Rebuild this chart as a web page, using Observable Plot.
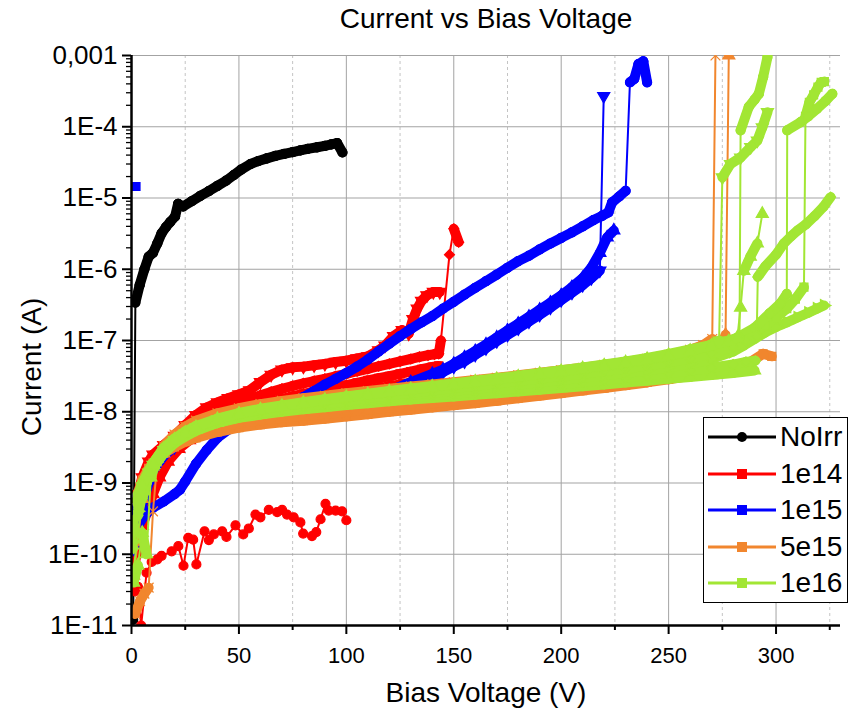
<!DOCTYPE html>
<html><head><meta charset="utf-8">
<script src="https://cdn.jsdelivr.net/npm/d3@7"></script>
<script src="https://cdn.jsdelivr.net/npm/@observablehq/plot@0.6"></script>
<style>
body{margin:0;background:#fff;font-family:"Liberation Sans",Arial,sans-serif;}
#wrap{position:relative;width:851px;height:713px;overflow:hidden;}
.t{position:absolute;color:#000;white-space:nowrap;}
</style></head><body><div id="wrap"></div>
<script>
// ---------- series & axes ----------
const seriesNames = ["NoIrr","1e14","1e15","5e15","1e16"];
const seriesColors = ["#000000","#ff0000","#0000ff","#f1862e","#a2e634"];
const xTicks = [0,50,100,150,200,250,300];
const xMinorTicks = [25,75,125,175,225,275,325];
const yTicks = [1e-3,1e-4,1e-5,1e-6,1e-7,1e-8,1e-9,1e-10,1e-11];
const yTickLabels = ["0,001","1E-4","1E-5","1E-6","1E-7","1E-8","1E-9","1E-10","1E-11"];

// ---------- data: [bias voltage (V), current (A)] ----------
const noIrr = [[0.8,1.2e-11],[1.8,3.4e-7],[3.8,6e-7],[6,1e-6],[8,1.5e-6],[10,1.7e-6],[12,2.3e-6],[14,3.2e-6],[16,3.9e-6],[18,4.6e-6],[20.3,5.5e-6],[21.7,8.3e-6],[24,7.6e-6],[28,9e-6],[32,1.07e-5],[36,1.25e-5],[40,1.48e-5],[44,1.75e-5],[47.6,2.1e-5],[51,2.5e-5],[55.4,3e-5],[59,3.3e-5],[63,3.6e-5],[67,3.9e-5],[71,4.15e-5],[75,4.4e-5],[78.6,4.65e-5],[82,4.9e-5],[86.4,5.15e-5],[90,5.4e-5],[93,5.65e-5],[95.7,5.9e-5],[98.2,4.35e-5]];

const r14a = [[1,2.5e-10],[3,7e-10],[5,1.2e-9],[8,2e-9],[10,2.5e-9],[15,3.4e-9],[20,4.6e-9],[25,6.5e-9],[30,9e-9],[35,1.15e-8],[40,1.35e-8],[45,1.55e-8],[50,1.75e-8],[55,2e-8],[60,2.6e-8],[65,3.3e-8],[70,3.9e-8],[75,4.2e-8],[80,4.3e-8],[85,4.5e-8],[90,4.7e-8],[95,5e-8],[100,5.2e-8],[105,5.6e-8],[110,6e-8],[115,7.3e-8],[118,8.5e-8],[122,1.15e-7],[126,1.4e-7],[129,1.25e-7],[131,2e-7],[133,2.8e-7],[135,3.6e-7],[137.5,4.3e-7],[140.5,4.8e-7],[143.5,4.8e-7]];
const r14b = [[1,2e-10],[3,6e-10],[5,1e-9],[8,1.7e-9],[10,2.2e-9],[15,3.2e-9],[20,4.2e-9],[25,5.6e-9],[30,7.2e-9],[35,8.8e-9],[40,1.05e-8],[45,1.2e-8],[50,1.35e-8],[55,1.5e-8],[60,1.7e-8],[65,1.9e-8],[70,2.1e-8],[75,2.3e-8],[80,2.5e-8],[85,2.7e-8],[90,2.9e-8],[95,3.15e-8],[100,3.4e-8],[105,3.7e-8],[110,4e-8],[115,4.35e-8],[120,4.7e-8],[125,5.1e-8],[130,5.5e-8],[134,5.9e-8],[138,6.2e-8],[141,6.4e-8],[143,6.5e-8],[144,1e-7],[148,1.6e-6],[150,3.7e-6],[152.3,2.4e-6]];
const r14c = [[1,1.5e-10],[3,4.5e-10],[5,8e-10],[8,1.4e-9],[10,1.9e-9],[15,2.9e-9],[20,3.8e-9],[25,4.9e-9],[30,6e-9],[35,7.1e-9],[40,8.2e-9],[45,9.3e-9],[50,1.04e-8],[55,1.15e-8],[60,1.27e-8],[65,1.4e-8],[70,1.52e-8],[75,1.65e-8],[80,1.78e-8],[85,1.92e-8],[90,2.06e-8],[95,2.2e-8],[100,2.36e-8],[105,2.55e-8],[110,2.75e-8],[115,2.95e-8],[120,3.15e-8],[125,3.4e-8],[130,3.65e-8],[135,3.95e-8],[140,4.25e-8],[143,4.4e-8]];
const r14d = [[1,6e-11],[3,1.3e-10],[5,2.5e-10],[8,4.5e-10],[10,7e-10],[13,1.2e-9],[17,2e-9],[22,3e-9],[27,4e-9],[32,5e-9],[40,6.5e-9],[45,7.5e-9],[50,8.5e-9],[55,9.5e-9],[60,1.04e-8],[65,1.13e-8],[70,1.22e-8],[75,1.31e-8],[80,1.4e-8],[85,1.5e-8],[90,1.6e-8],[95,1.7e-8],[100,1.8e-8],[105,1.91e-8],[110,2.03e-8],[115,2.15e-8],[120,2.28e-8],[125,2.42e-8],[130,2.56e-8],[135,2.72e-8],[140,2.9e-8],[143,3e-8]];
const r14e = [[1.5,3e-11],[3,3.5e-11],[4.5,1e-11],[7,5.5e-11],[9.4,7.8e-11],[12,8.5e-11],[14,9.5e-11],[18.7,1.1e-10],[21.8,1.3e-10],[24.2,6.9e-11],[26.4,1.7e-10],[28.7,1.6e-10],[30.2,7.2e-11],[34,2.1e-10],[36,1.58e-10],[38.3,1.9e-10],[42.2,2.1e-10],[44.2,1.75e-10],[48.4,2.55e-10],[52,1.9e-10],[54.6,2.3e-10],[57.7,3.6e-10],[60,3.3e-10],[63.9,4.2e-10],[67.8,3.9e-10],[70.1,4.2e-10],[72.4,3.6e-10],[75.5,3.3e-10],[78.6,2.8e-10],[79.9,1.95e-10],[84,1.8e-10],[86,2.05e-10],[88,3.1e-10],[90.3,5.1e-10],[91.8,4.1e-10],[95,4.1e-10],[98,4e-10],[100,3e-10]];

const b15a = [[2.1,1.45e-5]];
const b15b = [[1,1.5e-10],[3,2.5e-10],[6,3.5e-10],[10,4.5e-10],[15,5.5e-10],[20,7e-10],[22.6,8.1e-10],[25,1.05e-9],[30,1.85e-9],[35,2.9e-9],[40,4.3e-9],[45,5.6e-9],[50,6.9e-9],[55,8.1e-9],[60,9.3e-9],[65,1.06e-8],[70,1.2e-8],[75,1.38e-8],[80,1.6e-8],[85,1.95e-8],[90,2.4e-8],[95,2.9e-8],[100,3.5e-8],[105,4.3e-8],[110,5.4e-8],[115,7e-8],[120,9e-8],[125,1.15e-7],[130,1.45e-7],[135,1.8e-7],[140,2.2e-7],[145,2.8e-7],[150,3.5e-7],[155,4.4e-7],[160,5.5e-7],[165,6.8e-7],[170,8.4e-7],[175,1.05e-6],[180,1.3e-6],[185,1.55e-6],[190,1.9e-6],[195,2.3e-6],[200,2.75e-6],[205,3.3e-6],[210,4e-6],[215,4.9e-6],[219,5.6e-6],[222,6.3e-6],[223.7,8.7e-6],[227,1.05e-5],[230,1.26e-5],[232,4.2e-4],[234,4.7e-4],[236,7.6e-4],[238.2,8.3e-4],[240,4.2e-4]];
const b15c = [[1,1.2e-10],[3,2.8e-10],[5,5e-10],[8,1e-9],[10,1.5e-9],[15,2.4e-9],[20,3.2e-9],[30,5e-9],[40,6.5e-9],[50,7.8e-9],[60,9e-9],[70,1.02e-8],[80,1.13e-8],[90,1.25e-8],[100,1.37e-8],[110,1.55e-8],[120,1.85e-8],[125,2.15e-8],[130,2.5e-8],[135,2.8e-8],[140,3.1e-8],[145,3.6e-8],[150,4.3e-8],[155,5.1e-8],[160,6.3e-8],[165,7.8e-8],[170,9.8e-8],[175,1.2e-7],[180,1.48e-7],[185,1.85e-7],[190,2.3e-7],[195,2.9e-7],[200,3.7e-7],[205,4.7e-7],[210,6e-7],[214,7.5e-7],[218,9.6e-7],[219.8,2.7e-4]];
const b15d = [[1,3e-10],[3,5e-10],[5,7e-10],[8,1.1e-9],[10,1.7e-9],[15,2.6e-9],[20,3.5e-9],[30,5.3e-9],[40,6.9e-9],[50,8.2e-9],[60,9.4e-9],[70,1.06e-8],[80,1.18e-8],[90,1.3e-8],[100,1.43e-8],[110,1.6e-8],[120,1.95e-8],[130,2.6e-8],[140,3.4e-8],[145,3.9e-8],[150,4.7e-8],[155,5.8e-8],[160,7.1e-8],[165,8.8e-8],[170,1.1e-7],[175,1.38e-7],[180,1.72e-7],[185,2.15e-7],[190,2.7e-7],[195,3.4e-7],[200,4.3e-7],[205,5.6e-7],[210,7.5e-7],[214,1.05e-6],[218,1.7e-6],[221.4,2.8e-6],[224.5,3.5e-6]];

const o5a = [[1,3e-10],[3,7e-10],[5,1.1e-9],[8,1.6e-9],[10,1.9e-9],[15,2.6e-9],[20,3.2e-9],[25,3.8e-9],[30,4.3e-9],[40,5.2e-9],[50,6e-9],[60,6.6e-9],[70,7.1e-9],[80,7.5e-9],[90,8e-9],[100,8.6e-9],[110,9.2e-9],[120,1e-8],[130,1.07e-8],[140,1.15e-8],[150,1.23e-8],[160,1.32e-8],[170,1.42e-8],[180,1.55e-8],[190,1.68e-8],[200,1.82e-8],[210,1.98e-8],[220,2.15e-8],[230,2.35e-8],[240,2.58e-8],[250,2.85e-8],[260,3.2e-8],[270,3.6e-8],[280,4.2e-8],[288,5e-8],[294,6.5e-8],[298,6e-8]];
const o5b = [[1.7,1.45e-11],[4,2.2e-11],[6,2.8e-11],[8,3.4e-11],[10,4e-10],[12,2e-9],[15,3.3e-9],[20,4.8e-9],[25,6.2e-9],[30,7.5e-9],[40,9.5e-9],[50,1.12e-8],[60,1.28e-8],[70,1.42e-8],[80,1.55e-8],[90,1.68e-8],[100,1.82e-8],[110,1.96e-8],[120,2.1e-8],[130,2.26e-8],[140,2.42e-8],[150,2.6e-8],[160,2.8e-8],[170,3e-8],[180,3.25e-8],[190,3.52e-8],[200,3.82e-8],[210,4.15e-8],[220,4.55e-8],[230,5e-8],[240,5.55e-8],[250,6.3e-8],[260,7.4e-8],[266,8.6e-8],[270.3,1.05e-7],[271.8,1e-3]];
const o5c = [[1,5e-11],[3,1.5e-10],[5,6e-10],[8,1.3e-9],[10,1.7e-9],[15,2.6e-9],[20,3.4e-9],[30,4.8e-9],[40,5.9e-9],[50,6.9e-9],[60,7.6e-9],[70,8.2e-9],[80,8.7e-9],[90,9.3e-9],[100,1e-8],[110,1.07e-8],[120,1.15e-8],[130,1.23e-8],[140,1.32e-8],[150,1.41e-8],[160,1.52e-8],[170,1.64e-8],[180,1.77e-8],[190,1.9e-8],[200,2.05e-8],[210,2.22e-8],[220,2.42e-8],[230,2.66e-8],[240,2.95e-8],[250,3.3e-8],[260,3.9e-8],[268,4.8e-8],[273,6.5e-8],[276.5,1.2e-7],[278,1e-3]];

const g16a = [[1,4e-11],[3,7e-11],[5,2e-10],[7,1e-10],[9,1.2e-9],[12,2.2e-9],[15,2.9e-9],[20,3.9e-9],[25,4.8e-9],[30,5.6e-9],[40,7e-9],[50,8.2e-9],[60,9.1e-9],[70,1e-8],[80,1.08e-8],[90,1.16e-8],[100,1.24e-8],[110,1.32e-8],[120,1.4e-8],[130,1.48e-8],[140,1.56e-8],[150,1.64e-8],[160,1.73e-8],[170,1.82e-8],[180,1.92e-8],[190,2.03e-8],[200,2.15e-8],[210,2.28e-8],[220,2.42e-8],[230,2.57e-8],[240,2.73e-8],[250,2.9e-8],[260,3.08e-8],[270,3.27e-8],[280,3.5e-8],[290,3.8e-8]];
const g16b = [[1,6e-11],[3,2e-10],[5,6e-10],[8,1.3e-9],[10,1.9e-9],[15,3.1e-9],[20,4.1e-9],[25,5e-9],[30,5.9e-9],[40,7.4e-9],[50,8.6e-9],[60,9.6e-9],[70,1.05e-8],[80,1.14e-8],[90,1.23e-8],[100,1.32e-8],[110,1.41e-8],[120,1.5e-8],[130,1.59e-8],[140,1.69e-8],[150,1.79e-8],[160,1.9e-8],[170,2.01e-8],[180,2.14e-8],[190,2.28e-8],[200,2.43e-8],[210,2.6e-8],[220,2.79e-8],[230,3e-8],[240,3.23e-8],[250,3.5e-8],[260,3.8e-8],[270,4.15e-8],[280,4.6e-8],[286,5e-8],[290.4,5.2e-8]];
const g16c = [[1,1.5e-10],[3,4e-10],[5,7e-10],[8,1.2e-9],[10,1.6e-9],[15,2.7e-9],[20,3.7e-9],[25,4.6e-9],[30,5.5e-9],[40,7.1e-9],[50,8.4e-9],[60,9.6e-9],[70,1.07e-8],[80,1.17e-8],[90,1.27e-8],[100,1.38e-8],[110,1.49e-8],[120,1.6e-8],[130,1.72e-8],[140,1.84e-8],[150,1.97e-8],[160,2.1e-8],[170,2.25e-8],[180,2.41e-8],[190,2.59e-8],[200,2.78e-8],[210,3e-8],[220,3.24e-8],[230,3.5e-8],[240,3.8e-8],[250,4.2e-8],[260,4.7e-8],[270,5.5e-8],[280,7e-8],[285,8.5e-8],[290,1.05e-7],[295,1.3e-7],[300,1.55e-7],[305,1.8e-7],[310,2.1e-7],[315,2.45e-7],[319,2.8e-7],[322.3,3.1e-7]];
const g16d = [[1,2e-10],[3,5e-10],[5,8e-10],[8,1.3e-9],[10,1.7e-9],[15,2.8e-9],[20,3.8e-9],[25,4.8e-9],[30,5.7e-9],[40,7.4e-9],[50,8.8e-9],[60,1e-8],[70,1.12e-8],[80,1.23e-8],[90,1.35e-8],[100,1.47e-8],[110,1.6e-8],[120,1.73e-8],[130,1.87e-8],[140,2.02e-8],[150,2.18e-8],[160,2.35e-8],[170,2.54e-8],[180,2.75e-8],[190,2.98e-8],[200,3.23e-8],[210,3.5e-8],[220,3.8e-8],[230,4.15e-8],[240,4.55e-8],[250,5.1e-8],[260,5.8e-8],[270,6.9e-8],[280,8.8e-8],[285,1.05e-7],[290,1.3e-7],[295,1.65e-7],[300,2.1e-7],[305,2.8e-7],[309,3.8e-7],[313,5.6e-7],[313.7,1.4e-4],[315.5,2.2e-4],[317.5,2.8e-4],[319.5,3.6e-4],[321,4.2e-4],[322.5,4.3e-4]];
const g16e = [[1,2.5e-10],[3,6e-10],[5,9e-10],[8,1.4e-9],[10,1.8e-9],[15,3e-9],[20,4e-9],[25,5e-9],[30,6e-9],[40,7.7e-9],[50,9.2e-9],[60,1.05e-8],[70,1.17e-8],[80,1.29e-8],[90,1.41e-8],[100,1.54e-8],[110,1.68e-8],[120,1.82e-8],[130,1.97e-8],[140,2.13e-8],[150,2.3e-8],[160,2.49e-8],[170,2.7e-8],[180,2.93e-8],[190,3.18e-8],[200,3.45e-8],[210,3.75e-8],[220,4.1e-8],[230,4.5e-8],[240,5e-8],[250,5.7e-8],[260,6.6e-8],[270,8e-8],[280,1.02e-7],[290,1.5e-7],[297,2.4e-7],[302,3.3e-7],[305,4.5e-7],[305.2,8.9e-5],[311.4,1.16e-4],[315,1.4e-4],[319,1.78e-4],[323,2.3e-4],[326.2,2.9e-4]];
const g16f = [[1,1.2e-10],[3,3.5e-10],[5,7e-10],[8,1.2e-9],[10,1.6e-9],[15,2.6e-9],[20,3.6e-9],[25,4.5e-9],[30,5.4e-9],[40,7e-9],[50,8.4e-9],[60,9.6e-9],[70,1.08e-8],[80,1.2e-8],[90,1.31e-8],[100,1.43e-8],[110,1.56e-8],[120,1.7e-8],[130,1.84e-8],[140,1.99e-8],[150,2.15e-8],[160,2.32e-8],[170,2.5e-8],[180,2.7e-8],[190,2.92e-8],[200,3.16e-8],[210,3.42e-8],[220,3.72e-8],[230,4.05e-8],[240,4.45e-8],[250,4.95e-8],[260,5.6e-8],[270,6.6e-8],[280,8.2e-8],[286,1e-7],[291,1.15e-7],[291.5,7.8e-7],[295,1.1e-6],[300,1.6e-6],[303.6,2.3e-6],[307,2.9e-6],[310,3.5e-6],[314,4.3e-6],[318,5.6e-6],[322,7.5e-6],[325.4,1.03e-5]];
const g16g = [[1,2e-10],[3,5.5e-10],[5,9e-10],[8,1.4e-9],[10,1.8e-9],[15,2.9e-9],[20,4e-9],[25,5e-9],[30,6e-9],[40,7.8e-9],[50,9.3e-9],[60,1.06e-8],[70,1.19e-8],[80,1.31e-8],[90,1.44e-8],[100,1.58e-8],[110,1.73e-8],[120,1.88e-8],[130,2.04e-8],[140,2.21e-8],[150,2.4e-8],[160,2.6e-8],[170,2.82e-8],[180,3.06e-8],[190,3.33e-8],[200,3.63e-8],[210,3.97e-8],[220,4.35e-8],[230,4.8e-8],[240,5.35e-8],[250,6.05e-8],[260,7e-8],[268,8.3e-8],[273.5,1e-7],[275,1.95e-5],[278.8,3e-5],[283.5,3.7e-5],[288.2,5.2e-5],[291.3,6.4e-5],[293.6,9.8e-5],[296,1.6e-4]];
const g16h = [[1,3e-10],[3,7e-10],[5,1e-9],[8,1.5e-9],[10,1.9e-9],[15,3.1e-9],[20,4.2e-9],[25,5.3e-9],[30,6.3e-9],[40,8e-9],[50,9.6e-9],[60,1.1e-8],[70,1.23e-8],[80,1.36e-8],[90,1.5e-8],[100,1.64e-8],[110,1.79e-8],[120,1.95e-8],[130,2.12e-8],[140,2.3e-8],[150,2.5e-8],[160,2.72e-8],[170,2.95e-8],[180,3.2e-8],[190,3.5e-8],[200,3.82e-8],[210,4.18e-8],[220,4.6e-8],[230,5.1e-8],[240,5.7e-8],[250,6.5e-8],[260,7.5e-8],[270,8.7e-8],[278,1e-7],[283,1.1e-7],[283.5,8.9e-5],[287.3,1.9e-4],[290,2.4e-4],[292,2.9e-4],[294,5e-4],[296,9.5e-4]];
const g16i = [[1,2.5e-10],[3,6e-10],[5,9.5e-10],[8,1.45e-9],[10,1.85e-9],[15,3e-9],[20,4.1e-9],[25,5.1e-9],[30,6.1e-9],[40,7.9e-9],[50,9.4e-9],[60,1.08e-8],[70,1.21e-8],[80,1.34e-8],[90,1.47e-8],[100,1.61e-8],[110,1.76e-8],[120,1.92e-8],[130,2.08e-8],[140,2.26e-8],[150,2.45e-8],[160,2.66e-8],[170,2.88e-8],[180,3.13e-8],[190,3.41e-8],[200,3.72e-8],[210,4.07e-8],[220,4.47e-8],[230,4.94e-8],[240,5.5e-8],[250,6.25e-8],[260,7.2e-8],[270,8.5e-8],[278,9.8e-8],[282,1.1e-7],[283.5,2.9e-7],[285,9.5e-7],[288,1.5e-6],[291.3,2.3e-6],[293.6,6e-6]];

// ---------- marker shapes ----------
function triGeom(size){const s=Math.sqrt(4*size/Math.sqrt(3));return [s,s*Math.sqrt(3)/2];}
const triDown = {draw(c,size){const [s,h]=triGeom(size);c.moveTo(0,2*h/3);c.lineTo(s/2,-h/3);c.lineTo(-s/2,-h/3);c.closePath();}};
const triRight = {draw(c,size){const [s,h]=triGeom(size);c.moveTo(2*h/3,0);c.lineTo(-h/3,s/2);c.lineTo(-h/3,-s/2);c.closePath();}};

// curve -> [series, points, marker, dense-band]
const curveDefs = [
  ["NoIrr", noIrr, "circle", true],
  ["1e14", r14a, triDown, true],["1e14", r14b, "diamond2", true],["1e14", r14c, "square", true],["1e14", r14d, "triangle", true],["1e14", r14e, "circle", false],
  ["1e15", b15a, "square", false],["1e15", b15b, "circle", true],["1e15", b15c, triDown, true],["1e15", b15d, "triangle", true],
  ["5e15", o5a, "square", true],["5e15", o5b, "times", true],["5e15", o5c, "triangle", true],
  ["1e16", g16a, "triangle", true],["1e16", g16b, "diamond2", true],["1e16", g16c, triRight, true],["1e16", g16d, "square", true],["1e16", g16e, "circle", true],["1e16", g16f, "diamond2", true],["1e16", g16g, triDown, true],["1e16", g16h, "circle", true],["1e16", g16i, "triangle", true]
];

const colorOf = s => seriesColors[seriesNames.indexOf(s)];
const dataMarks = [];
for (const s of seriesNames) {
  for (const [series, pts, sym, band] of curveDefs) {
    if (series !== s) continue;
    const col = colorOf(series);
    const rows = pts.map(([v,i]) => ({v, i}));
    if (rows.length > 1) dataMarks.push(Plot.line(rows, {x:"v", y:"i", stroke:col, strokeWidth:2, clip:true}));
    if (band) {
      const segs = [];
      for (let k = 0; k < pts.length - 1; k++) {
        const a = pts[k], b = pts[k+1];
        if (b[0]-a[0] <= 16 && Math.abs(Math.log10(b[1]/a[1])) < 0.35) segs.push({x1:a[0], y1:a[1], x2:b[0], y2:b[1]});
      }
      dataMarks.push(Plot.link(segs, {x1:"x1", y1:"y1", x2:"x2", y2:"y2", stroke:col, strokeWidth:10, strokeLinecap:"round", clip:true}));
    }
    dataMarks.push(Plot.dot(rows, {x:"v", y:"i", symbol:sym, r:4.5, fill:col, stroke:col, strokeWidth:1.2, clip:true}));
  }
}

const yMinor = [];
for (let e = -11; e < -3; e++) for (let k = 2; k <= 9; k++) yMinor.push(k * Math.pow(10, e));

const chart = Plot.plot({
  width: 851, height: 713,
  marginLeft: 131, marginRight: 11, marginTop: 55, marginBottom: 88,
  style: {fontFamily: "'Liberation Sans', Arial, sans-serif", background: "transparent", color: "#000"},
  x: {domain: [0, 330]},
  y: {type: "log", domain: [1e-11, 1e-3]},
  marks: [
    Plot.ruleX(xMinorTicks, {stroke:"#c4c4c4", strokeDasharray:"3,3"}),
    Plot.ruleX(xTicks.slice(1), {stroke:"#a3a3a3"}),
    Plot.ruleY(yTicks.slice(0, -1), {stroke:"#a3a3a3"}),
    ...dataMarks,
    Plot.ruleX([0], {stroke:"#000", strokeWidth:2.5}),
    Plot.ruleY([1e-11], {stroke:"#000", strokeWidth:2.5}),
    Plot.axisX(xTicks, {tickSize:9, tickPadding:13, fontSize:22, stroke:"#000", strokeWidth:2, label:null, tickFormat:d => String(d)}),
    Plot.axisX(xMinorTicks, {tickSize:5, stroke:"#000", strokeWidth:2, label:null, tickFormat:() => ""}),
    Plot.axisY(yTicks, {tickSize:9, tickPadding:5, fontSize:26, stroke:"#000", strokeWidth:2, label:null, tickFormat:d => yTickLabels[yTicks.indexOf(d)]}),
    Plot.axisY(yMinor, {tickSize:5, stroke:"#000", strokeWidth:1.3, label:null, tickFormat:() => ""})
  ]
});

const wrap = document.getElementById("wrap");
chart.style.position = "absolute"; chart.style.left = "0"; chart.style.top = "0";
wrap.appendChild(chart);

function addText(txt, css) { const d = document.createElement("div"); d.className = "t"; d.textContent = txt; Object.assign(d.style, css); wrap.appendChild(d); return d; }
addText("Current vs Bias Voltage", {left:"186px", width:"600px", textAlign:"center", top:"2px", fontSize:"28px", lineHeight:"34px"});
addText("Bias Voltage (V)", {left:"186px", width:"600px", textAlign:"center", top:"676px", fontSize:"28px", lineHeight:"34px"});
addText("Current (A)", {left:"-268px", width:"600px", textAlign:"center", top:"350px", fontSize:"28px", lineHeight:"34px", transform:"rotate(-90deg)"});

// legend
const leg = document.createElement("div");
Object.assign(leg.style, {position:"absolute", left:"703px", top:"417px", width:"143px", height:"184px", border:"1.5px solid #000", background:"#fff"});
wrap.appendChild(leg);
seriesNames.forEach((name, i) => {
  const cy = 19 + i * 36.5;
  const ns = "http://www.w3.org/2000/svg";
  const svg = document.createElementNS(ns, "svg");
  svg.setAttribute("width", 72); svg.setAttribute("height", 20);
  Object.assign(svg.style, {position:"absolute", left:"2px", top:(cy - 10) + "px"});
  const ln = document.createElementNS(ns, "line");
  ln.setAttribute("x1", 2); ln.setAttribute("x2", 70); ln.setAttribute("y1", 10); ln.setAttribute("y2", 10);
  ln.setAttribute("stroke", seriesColors[i]); ln.setAttribute("stroke-width", 3);
  svg.appendChild(ln);
  let mk;
  if (i === 0) { mk = document.createElementNS(ns, "circle"); mk.setAttribute("cx", 36); mk.setAttribute("cy", 10); mk.setAttribute("r", 5); }
  else { mk = document.createElementNS(ns, "rect"); mk.setAttribute("x", 31); mk.setAttribute("y", 5); mk.setAttribute("width", 10); mk.setAttribute("height", 10); }
  mk.setAttribute("fill", seriesColors[i]);
  svg.appendChild(mk);
  leg.appendChild(svg);
  const t = document.createElement("div");
  t.className = "t"; t.textContent = name;
  Object.assign(t.style, {left:"76px", top:(cy - 17) + "px", fontSize:"28px", lineHeight:"34px"});
  leg.appendChild(t);
});
</script></body></html>
